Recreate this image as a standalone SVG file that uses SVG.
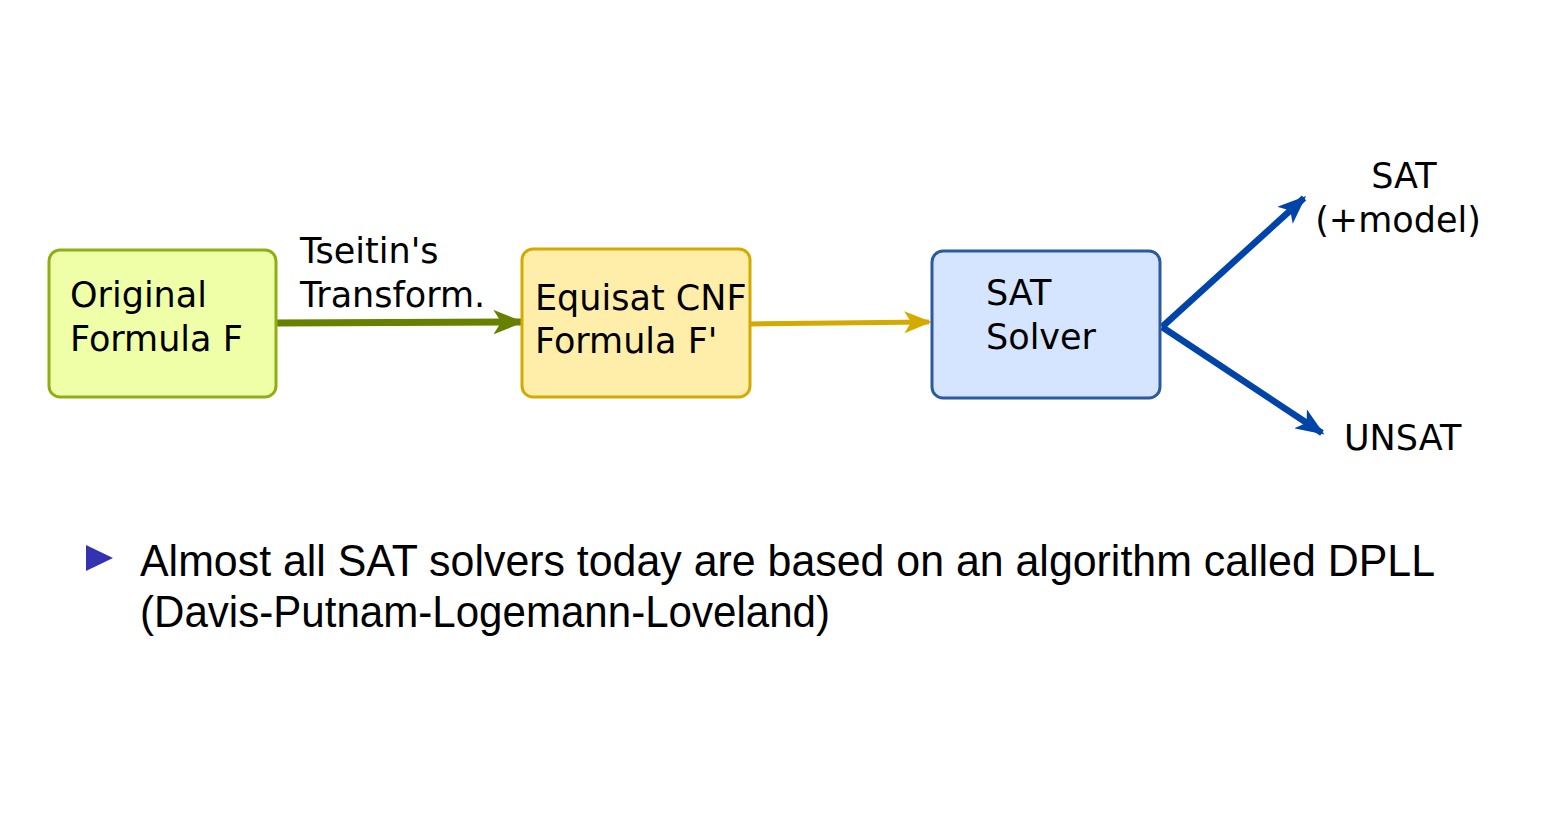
<svg xmlns="http://www.w3.org/2000/svg" width="1545" height="814" viewBox="0 0 1545 814">
<style>
.t{font-family:"DejaVu Sans",sans-serif;font-size:35px;fill:#000}
.b{font-family:"Liberation Sans",sans-serif;font-size:44px;fill:#000}
</style>
<defs>
<marker id="mg" viewBox="0 0 10 8" refX="9" refY="4" markerWidth="4.4" markerHeight="3.5" markerUnits="strokeWidth" orient="auto"><path d="M0,0 L10,4 L0,8 L2.5,4 Z" fill="#668000"/></marker>
<marker id="my" viewBox="0 0 10 8" refX="9" refY="4" markerWidth="5.5" markerHeight="4.4" markerUnits="strokeWidth" orient="auto"><path d="M0,0 L10,4 L0,8 L2.5,4 Z" fill="#d4aa00"/></marker>
<marker id="mb" viewBox="0 0 10 8" refX="9" refY="4" markerWidth="4.4" markerHeight="3.5" markerUnits="strokeWidth" orient="auto"><path d="M0,0 L10,4 L0,8 L2.5,4 Z" fill="#0044aa"/></marker>
</defs>
<rect width="1545" height="814" fill="#fff"/>
<g id="connectors" fill="none">
<line x1="276" y1="323" x2="521" y2="322" stroke="#668000" stroke-width="7" marker-end="url(#mg)"/>
<line x1="750" y1="324" x2="929" y2="322" stroke="#d4aa00" stroke-width="5" marker-end="url(#my)"/>
<line x1="1162" y1="327" x2="1304" y2="198" stroke="#0044aa" stroke-width="6.5" marker-end="url(#mb)"/>
<line x1="1162" y1="327" x2="1322" y2="433" stroke="#0044aa" stroke-width="6.5" marker-end="url(#mb)"/>
<text class="t" x="300" y="263">Tseitin's</text>
<text class="t" x="300" y="307">Transform.</text>
</g>
<g id="node-original">
<rect x="49" y="250" width="227" height="147" rx="11" fill="#efffa8" stroke="#8fae14" stroke-width="3"/>
<text class="t" x="70" y="307">Original</text>
<text class="t" x="70" y="351">Formula F</text>
</g>
<g id="node-equisat">
<rect x="522" y="249" width="228" height="148" rx="11" fill="#ffeeaa" stroke="#d4aa00" stroke-width="3"/>
<text class="t" x="535" y="310">Equisat CNF</text>
<text class="t" x="535" y="353">Formula F'</text>
</g>
<g id="node-solver">
<rect x="932" y="251" width="228" height="147" rx="11" fill="#d5e4ff" stroke="#2c5aa0" stroke-width="3"/>
<text class="t" x="986" y="305">SAT</text>
<text class="t" x="986" y="349">Solver</text>
</g>
<g id="node-sat">
<text class="t" x="1404" y="188" text-anchor="middle">SAT</text>
<text class="t" x="1398" y="232" text-anchor="middle">(+model)</text>
</g>
<g id="node-unsat">
<text class="t" x="1344" y="450">UNSAT</text>
</g>
<g id="bullet">
<path d="M86,545 L113,558 L86,571 Z" fill="#3333b2"/>
<text class="b" x="140" y="576" textLength="1295" lengthAdjust="spacingAndGlyphs">Almost all SAT solvers today are based on an algorithm called DPLL</text>
<text class="b" x="140" y="627" textLength="690" lengthAdjust="spacingAndGlyphs">(Davis-Putnam-Logemann-Loveland)</text>
</g>
</svg>
